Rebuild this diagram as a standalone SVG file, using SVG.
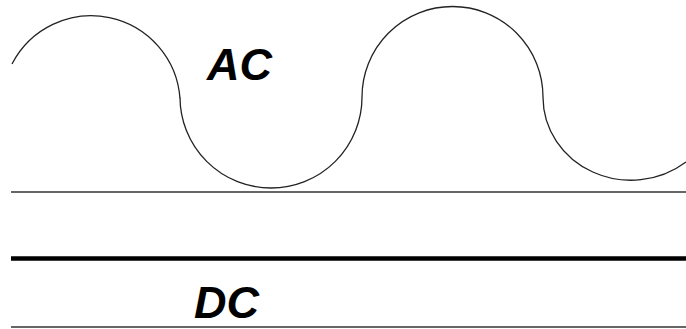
<svg xmlns="http://www.w3.org/2000/svg" width="686" height="329" viewBox="0 0 686 329">
<style>
.wave{fill:none;stroke:#222;stroke-width:1.3}
.thin{stroke:#333;stroke-width:1.5}
.thick{stroke:#000;stroke-width:4.5}
.lbl{font-family:"Liberation Sans",Arial,sans-serif;font-weight:bold;font-style:italic;font-size:45px;fill:#000}
</style>
<rect width="686" height="329" fill="#fff"/>
<g id="ac">
<path class="wave" d="M12 64 A89 89 0 0 1 180 99 L180 97 A91 91 0 0 0 362 97 A90.5 90.5 0 0 1 543 97 A88 83 0 0 0 686 162"/>
<line class="thin" x1="11" y1="192" x2="686" y2="192"/>
<text class="lbl" x="207" y="80">AC</text>
</g>
<g id="dc">
<line class="thick" x1="11" y1="258.5" x2="686" y2="258.5"/>
<line class="thin" x1="11" y1="327" x2="686" y2="327"/>
<text class="lbl" x="194" y="318">DC</text>
</g>
</svg>
